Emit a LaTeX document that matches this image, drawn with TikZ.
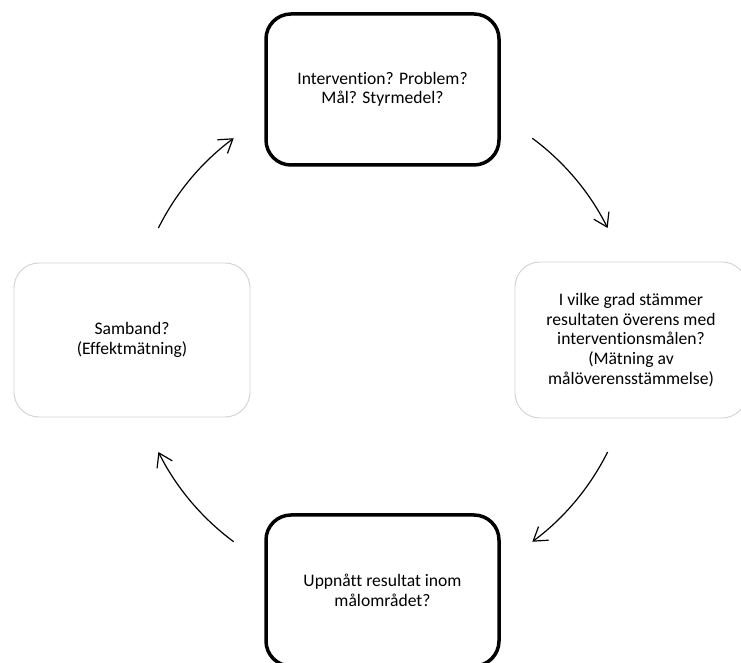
\documentclass[tikz,border=0pt]{standalone}
\usepackage{fontspec}
\setmainfont{Carlito}[Ligatures=NoCommon]
\usetikzlibrary{arrows.meta}
\tikzset{
  boldbox/.style={draw=black, line width=3.5pt, rounded corners=25pt, align=center, inner sep=0pt,
    minimum width=233pt, minimum height=151pt, font=\fontsize{17.6}{19.6}\selectfont},
  lightbox/.style={draw=black!18, line width=0.9pt, rounded corners=25pt, align=center, inner sep=0pt,
    font=\fontsize{17.6}{19.6}\selectfont},
  cyclearrow/.style={line width=1.2pt, -{Straight Barb[length=13pt,width=17pt,line width=1.2pt]}}
}
\begin{document}
\begin{tikzpicture}[x=1pt,y=1pt]
\useasboundingbox (0,0) rectangle (741,663);
\clip (0,0) rectangle (741,663);
\node[boldbox] (top) at (382.5,573.5) {Intervention? Problem?\\Mål? Styrmedel?};
\node[boldbox] (bot) at (382.5,72.5) {Uppnått resultat inom\\målområdet?};
\node[lightbox, minimum width=236pt, minimum height=154pt] (left) at (132,323) {Samband?\\(Effektmätning)};
\node[lightbox, minimum width=232pt, minimum height=156pt] (right) at (631,323) {I vilke grad stämmer\\resultaten överens med\\interventionsmålen?\\(Mätning av\\målöverensstämmelse)};
\coordinate (ctr) at (383,323);
\path (ctr) ++(53.5:251) coordinate (a1s);
\path (ctr) ++(-26.5:251) coordinate (a2s);
\path (ctr) ++(-126.5:251) coordinate (a3s);
\path (ctr) ++(153.5:251) coordinate (a4s);
\draw[cyclearrow] (a1s) arc[start angle=53.5, end angle=26.5, radius=251];
\draw[cyclearrow] (a2s) arc[start angle=-26.5, end angle=-53.5, radius=251];
\draw[cyclearrow] (a3s) arc[start angle=-126.5, end angle=-153.5, radius=251];
\draw[cyclearrow] (a4s) arc[start angle=153.5, end angle=126.5, radius=251];
\end{tikzpicture}
\end{document}
